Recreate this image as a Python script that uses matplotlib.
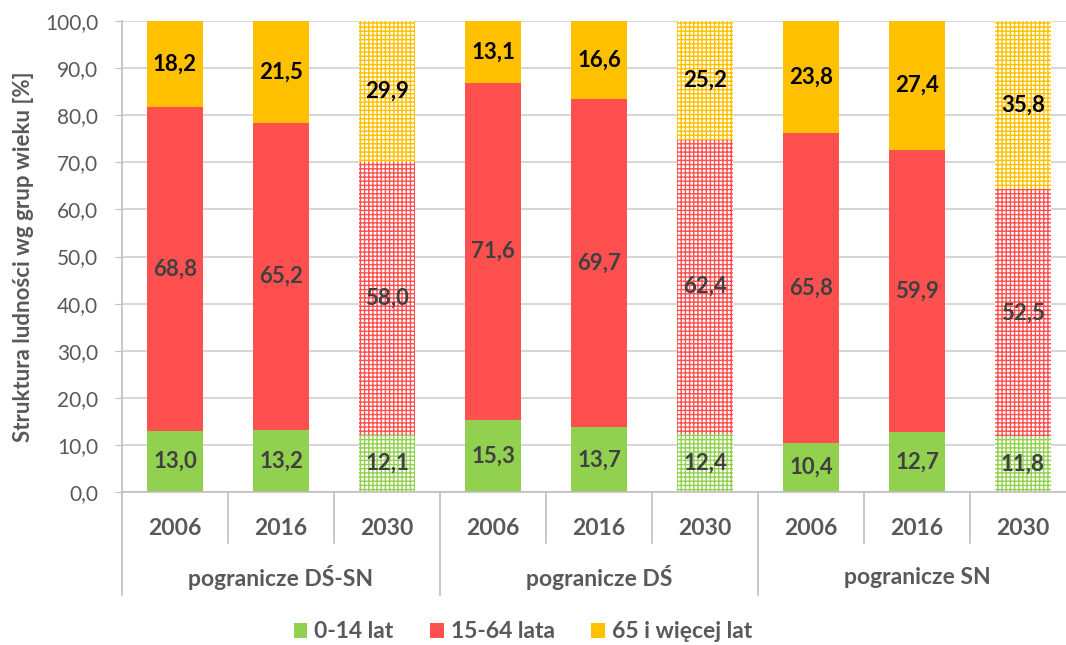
import numpy as np
import matplotlib
matplotlib.use('Agg')
import matplotlib.pyplot as plt
from matplotlib.patches import Patch

plt.rcParams['font.family'] = ['Lato', 'DejaVu Sans']
plt.rcParams['hatch.linewidth'] = 1.0

years = ['2006', '2016', '2030'] * 3
groups = ['pogranicze DŚ-SN', 'pogranicze DŚ', 'pogranicze SN']
projected = [False, False, True] * 3

age_0_14 = [13.0, 13.2, 12.1, 15.3, 13.7, 12.4, 10.4, 12.7, 11.8]
age_15_64 = [68.8, 65.2, 58.0, 71.6, 69.7, 62.4, 65.8, 59.9, 52.5]
age_65 = [18.2, 21.5, 29.9, 13.1, 16.6, 25.2, 23.8, 27.4, 35.8]

series = [('0-14 lat', age_0_14, '#92D050', '#404040'),
          ('15-64 lata', age_15_64, '#FF5050', '#404040'),
          ('65 i więcej lat', age_65, '#FFC000', '#000000')]

fig = plt.figure(figsize=(10.66, 6.45), dpi=100)
ax = fig.add_axes([122 / 1066, 153 / 645, 954 / 1066, 471 / 645])

x = np.arange(len(years))
bottom = np.zeros(len(years))
for name, vals, col, tcol in series:
    vals = np.array(vals)
    for i in x:
        if projected[i]:
            # prognoza 2030 - kratka
            ax.bar(i, vals[i], 0.52, bottom=bottom[i], facecolor='white',
                   edgecolor=col, linewidth=0, hatch='++++', zorder=2)
        else:
            ax.bar(i, vals[i], 0.52, bottom=bottom[i], color=col, linewidth=0, zorder=2)
        ax.text(i, bottom[i] + vals[i] / 2, f'{vals[i]:.1f}'.replace('.', ','),
                ha='center', va='center', fontsize=16, fontweight='bold',
                color=tcol, zorder=3)
    bottom += vals

ax.set_xlim(-0.5, len(years) - 0.5)
ax.set_ylim(0, 100)
ax.set_yticks(np.arange(0, 101, 10))
ax.set_yticklabels([f'{v:.1f}'.replace('.', ',') for v in np.arange(0, 101, 10)],
                   fontsize=15, color='#595959')
ax.tick_params(axis='y', length=5, color='#BFBFBF', pad=12)
ax.grid(axis='y', color='#D0D0D0', linewidth=1.2, zorder=0)
ax.set_axisbelow(True)
for s in ['top', 'right']:
    ax.spines[s].set_visible(False)
for s in ['left', 'bottom']:
    ax.spines[s].set_color('#BFBFBF')
    ax.spines[s].set_linewidth(1.2)

ax.set_ylabel('Struktura ludności wg grup wieku [%]', fontsize=16,
              fontweight='bold', color='#595959', labelpad=8)

# dwupoziomowa oś kategorii
ax.set_xticks(x)
ax.set_xticklabels(years, fontsize=16.5, fontweight='bold', color='#595959')
ax.tick_params(axis='x', length=0, pad=19)
trans = ax.get_xaxis_transform()
for b in np.arange(-0.5, len(years), 1):
    depth = -0.219 if (b + 0.5) % 3 == 0 else -0.108
    ax.plot([b, b], [0, depth], transform=trans, color='#BFBFBF',
            linewidth=1.2, clip_on=False)
for g, name in enumerate(groups):
    ax.text(g * 3 + 1, -0.182, name, transform=trans, ha='center', va='center',
            fontsize=16.5, fontweight='bold', color='#595959')

handles = [Patch(facecolor=c, label=n) for n, _, c, _ in series]
leg = fig.legend(handles=handles, loc='center', bbox_to_anchor=(523 / 1066, 13 / 645),
                 ncol=3, frameon=False, fontsize=16.5, handlelength=0.6,
                 handleheight=0.6, handletextpad=0.3, columnspacing=1.6)
for t in leg.get_texts():
    t.set_color('#595959')
    t.set_fontweight('bold')

fig.savefig('out.png', dpi=100)
